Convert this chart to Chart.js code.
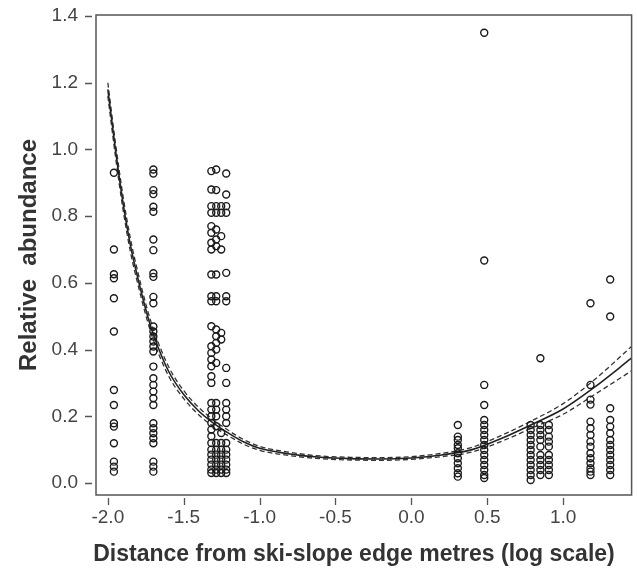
<!DOCTYPE html>
<html><head><meta charset="utf-8">
<script src="https://cdn.jsdelivr.net/npm/chart.js@4/dist/chart.umd.min.js"></script>
<style>html,body{margin:0;padding:0;background:#fff;}</style>
</head><body>
<canvas id="c" width="637" height="571"></canvas>
<script>
// ---- tick labels ----
const xTicks = [-2.0, -1.5, -1.0, -0.5, 0.0, 0.5, 1.0];
const yTicks = [0.0, 0.2, 0.4, 0.6, 0.8, 1.0, 1.2, 1.4];
const xTitle = 'Distance from ski-slope edge metres (log scale)';
const yTitle = 'Relative  abundance';

// ---- observed relative abundance, grouped by distance (log10 m) ----
const colA_x = -1.96;
const colA_y = [0.93, 0.70, 0.626, 0.614, 0.554, 0.454, 0.279, 0.234, 0.179, 0.169, 0.119, 0.064, 0.049, 0.034];
const colB_x = -1.70;
const colB_y = [0.94, 0.928, 0.878, 0.866, 0.828, 0.813, 0.73, 0.698, 0.629, 0.618, 0.558, 0.539, 0.469, 0.454, 0.439, 0.424, 0.409, 0.394, 0.349, 0.314, 0.294, 0.274, 0.254, 0.234, 0.179, 0.164, 0.149, 0.134, 0.119, 0.064, 0.049, 0.034];
const colC1_x = -1.318;
const colC1_y = [0.935, 0.88, 0.83, 0.81, 0.77, 0.75, 0.72, 0.70, 0.625, 0.56, 0.545, 0.47, 0.41, 0.39, 0.37, 0.35, 0.32, 0.30, 0.24, 0.22, 0.20, 0.18, 0.16, 0.14, 0.12, 0.10, 0.085, 0.07, 0.055, 0.04, 0.03];
const colC2_x = -1.286;
const colC2_y = [0.94, 0.878, 0.83, 0.81, 0.76, 0.73, 0.71, 0.625, 0.56, 0.545, 0.46, 0.44, 0.42, 0.40, 0.36, 0.24, 0.22, 0.20, 0.17, 0.12, 0.10, 0.085, 0.07, 0.055, 0.04, 0.03];
const colC3_x = -1.253;
const colC3_y = [0.83, 0.81, 0.74, 0.70, 0.45, 0.43, 0.15, 0.12, 0.10, 0.085, 0.07, 0.055, 0.04, 0.03];
const colC4_x = -1.220;
const colC4_y = [0.928, 0.865, 0.83, 0.81, 0.63, 0.56, 0.545, 0.345, 0.30, 0.24, 0.22, 0.20, 0.18, 0.12, 0.10, 0.085, 0.07, 0.055, 0.04, 0.03];
const colD_x = 0.306;
const colD_y = [0.174, 0.139, 0.129, 0.114, 0.104, 0.089, 0.074, 0.059, 0.044, 0.029, 0.019];
const colE_x = 0.48;
const colE_y = [1.35, 0.667, 0.294, 0.234, 0.189, 0.174, 0.159, 0.144, 0.129, 0.114, 0.099, 0.084, 0.069, 0.054, 0.039, 0.024, 0.015];
const colF_x = 0.786;
const colF_y = [0.174, 0.159, 0.144, 0.129, 0.114, 0.099, 0.084, 0.069, 0.054, 0.039, 0.024, 0.009];
const colG_x = 0.85;
const colG_y = [0.374, 0.174, 0.159, 0.144, 0.129, 0.109, 0.084, 0.069, 0.054, 0.039, 0.024];
const colH_x = 0.906;
const colH_y = [0.174, 0.159, 0.139, 0.124, 0.109, 0.084, 0.069, 0.054, 0.039, 0.024];
const colI_x = 1.18;
const colI_y = [0.539, 0.294, 0.25, 0.235, 0.184, 0.164, 0.144, 0.124, 0.109, 0.089, 0.074, 0.059, 0.044, 0.034, 0.024];
const colJ_x = 1.31;
const colJ_y = [0.61, 0.499, 0.224, 0.189, 0.169, 0.149, 0.129, 0.114, 0.099, 0.084, 0.069, 0.054, 0.039, 0.024];

// ---- fitted curve with confidence band ----
const fitX   = [-2.0, -1.95, -1.9, -1.85, -1.8, -1.75, -1.7, -1.6, -1.5, -1.4, -1.3, -1.2, -1.1, -1.0, -0.8, -0.6, -0.4, -0.2, 0.0, 0.2, 0.4, 0.6, 0.8, 1.0, 1.2, 1.45];
const fitY   = [1.18, 1.00, 0.84, 0.71, 0.61, 0.52, 0.445, 0.335, 0.265, 0.215, 0.178, 0.148, 0.122, 0.104, 0.087, 0.077, 0.073, 0.072, 0.075, 0.084, 0.100, 0.135, 0.177, 0.222, 0.285, 0.374];
const upperY = [1.20, 1.02, 0.86, 0.73, 0.628, 0.537, 0.461, 0.349, 0.277, 0.226, 0.188, 0.156, 0.129, 0.110, 0.092, 0.081, 0.077, 0.076, 0.079, 0.089, 0.107, 0.144, 0.188, 0.238, 0.307, 0.409];
const lowerY = [1.16, 0.98, 0.82, 0.69, 0.592, 0.503, 0.429, 0.321, 0.253, 0.204, 0.168, 0.140, 0.115, 0.098, 0.082, 0.073, 0.069, 0.068, 0.071, 0.079, 0.093, 0.126, 0.166, 0.206, 0.263, 0.336];

const groups = [
  [colA_x, colA_y], [colB_x, colB_y], [colC1_x, colC1_y], [colC2_x, colC2_y],
  [colC3_x, colC3_y], [colC4_x, colC4_y], [colD_x, colD_y], [colE_x, colE_y],
  [colF_x, colF_y], [colG_x, colG_y], [colH_x, colH_y], [colI_x, colI_y], [colJ_x, colJ_y]
];
const pts = [];
groups.forEach(([x, ys]) => ys.forEach(y => pts.push({x: x, y: y})));
const toXY = (xs, ys) => xs.map((x, i) => ({x: x, y: ys[i]}));

const FONT = "'Liberation Sans', Arial, sans-serif";

const framePlugin = {
  id: 'frame',
  afterDraw(chart) {
    const {ctx, chartArea: a, scales} = chart;
    ctx.save();
    ctx.strokeStyle = '#555';
    ctx.lineWidth = 1.5;
    ctx.strokeRect(a.left, a.top, a.right - a.left, a.bottom - a.top);
    ctx.lineWidth = 1.3;
    ctx.beginPath();
    scales.x.ticks.forEach(t => {
      const px = Math.round(scales.x.getPixelForValue(t.value)) + 0.5;
      ctx.moveTo(px, a.bottom + 3);
      ctx.lineTo(px, a.bottom + 10);
    });
    scales.y.ticks.forEach(t => {
      const py = Math.round(scales.y.getPixelForValue(t.value)) + 0.5;
      ctx.moveTo(a.left - 11, py);
      ctx.lineTo(a.left - 4, py);
    });
    ctx.stroke();
    // axis titles
    ctx.fillStyle = '#333';
    ctx.textAlign = 'center';
    ctx.textBaseline = 'middle';
    ctx.font = 'bold 23px ' + FONT;
    ctx.fillText(xTitle, 354, 555);
    ctx.translate(29, (a.top + a.bottom) / 2);
    ctx.rotate(-Math.PI / 2);
    ctx.font = 'bold 24px ' + FONT;
    ctx.fillText(yTitle, 0, 0);
    ctx.restore();
  }
};

new Chart(document.getElementById('c'), {
  type: 'scatter',
  data: {
    datasets: [
      { data: pts, showLine: false, pointStyle: 'circle', pointRadius: 3.5,
        borderColor: '#1a1a1a', borderWidth: 1.4, backgroundColor: 'rgba(0,0,0,0)' },
      { data: toXY(fitX, fitY), showLine: true, pointRadius: 0, borderColor: '#222',
        borderWidth: 1.6, cubicInterpolationMode: 'monotone', fill: false },
      { data: toXY(fitX, upperY), showLine: true, pointRadius: 0, borderColor: '#333',
        borderWidth: 1.3, borderDash: [5, 3], cubicInterpolationMode: 'monotone', fill: false },
      { data: toXY(fitX, lowerY), showLine: true, pointRadius: 0, borderColor: '#333',
        borderWidth: 1.3, borderDash: [5, 3], cubicInterpolationMode: 'monotone', fill: false }
    ]
  },
  options: {
    responsive: false, animation: false, devicePixelRatio: 1,
    layout: { padding: { top: 15, right: 2, left: 0, bottom: 0 } },
    plugins: { legend: { display: false }, tooltip: { enabled: false } },
    scales: {
      x: {
        type: 'linear', min: -2.078, max: 1.451,
        afterBuildTicks: s => { s.ticks = xTicks.map(v => ({value: v})); },
        afterFit: s => { s.height = 76; s.paddingLeft = 0; s.paddingRight = 0; },
        grid: { display: false, drawTicks: false, tickLength: 0 },
        border: { display: false },
        ticks: { padding: 11, color: '#444', font: { family: FONT, size: 19 },
                 callback: v => Number(v).toFixed(1), maxRotation: 0, autoSkip: false },
        title: { display: false }
      },
      y: {
        type: 'linear', min: -0.036, max: 1.403,
        afterBuildTicks: s => { s.ticks = yTicks.map(v => ({value: v})); },
        afterFit: s => { s.width = 96; s.paddingTop = 0; s.paddingBottom = 0; },
        grid: { display: false, drawTicks: false, tickLength: 0 },
        border: { display: false },
        ticks: { padding: 18, color: '#444', font: { family: FONT, size: 19 },
                 callback: v => Number(v).toFixed(1), autoSkip: false },
        title: { display: false }
      }
    }
  },
  plugins: [framePlugin]
});
</script>
</body></html>
